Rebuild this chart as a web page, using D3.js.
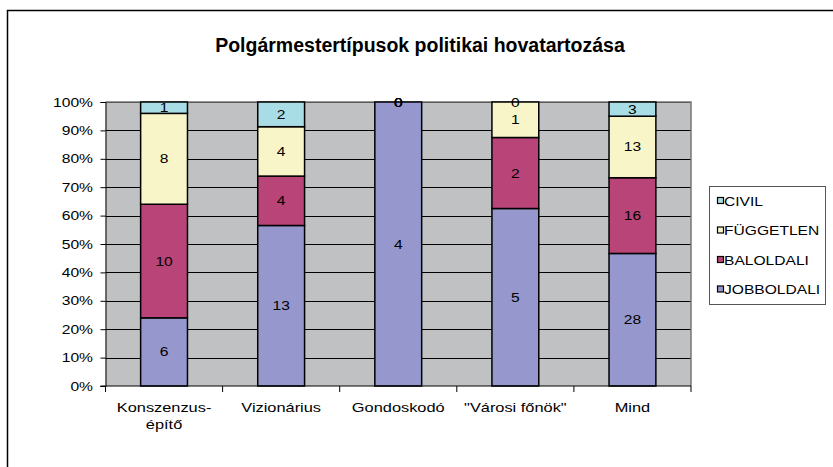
<!DOCTYPE html>
<html>
<head>
<meta charset="utf-8">
<script src="https://cdn.jsdelivr.net/npm/d3@7"></script>
<style>
  body { margin: 0; background: #fff; }
  svg { display: block; font-family: "Liberation Sans", Arial, sans-serif; }
</style>
</head>
<body>
<script>
// chart values
const categories = ['Konszenzus-\népítő', 'Vizionárius', 'Gondoskodó', '"Városi főnök"', 'Mind'];
const seriesNames = ['JOBBOLDALI', 'BALOLDALI', 'FÜGGETLEN', 'CIVIL'];
const jobboldali = [6, 13, 4, 5, 28];
const baloldali = [10, 4, 0, 2, 16];
const fuggetlen = [8, 4, 0, 1, 13];
const civil = [1, 2, 0, 0, 3];
const yTicks = [0, 0.1, 0.2, 0.3, 0.4, 0.5, 0.6, 0.7, 0.8, 0.9, 1];

const colors = ['#9597cd', '#b94478', '#f8f6c9', '#a8dde5'];

const width = 833, height = 467;
const plot = { left: 105.5, top: 102, right: 691, bottom: 386 };

var svg = d3.select('body').append('svg')
  .attr('width', width)
  .attr('height', height);

// the small text in the original is rendered wide, so stretch it horizontally
function wideText(parent, px, py, sx, size, anchor, str) {
  return parent.append('text')
    .attr('transform', 'translate(' + px + ',' + py + ') scale(' + sx + ',1)')
    .attr('text-anchor', anchor)
    .attr('font-size', size)
    .attr('fill', '#000')
    .text(str);
}

// outer frame
svg.append('rect')
  .attr('x', 7.5).attr('y', 10.5)
  .attr('width', 840).attr('height', 480)
  .attr('fill', 'none').attr('stroke', '#000').attr('stroke-width', 1.5);

svg.append('text')
  .attr('x', 420).attr('y', 52)
  .attr('text-anchor', 'middle')
  .attr('font-size', 19.5).attr('font-weight', 'bold')
  .text('Polgármestertípusok politikai  hovatartozása');

var table = categories.map(function (c, i) {
  return { cat: c, JOBBOLDALI: jobboldali[i], BALOLDALI: baloldali[i], 'FÜGGETLEN': fuggetlen[i], CIVIL: civil[i] };
});

var stacked = d3.stack().keys(seriesNames).offset(d3.stackOffsetExpand)(table);

var x = d3.scaleBand().domain(categories).range([plot.left, plot.right]);
var y = d3.scaleLinear().domain([0, 1]).range([plot.bottom, plot.top]);

// plot background
svg.append('rect')
  .attr('x', plot.left).attr('y', plot.top)
  .attr('width', plot.right - plot.left).attr('height', plot.bottom - plot.top)
  .attr('fill', '#bfc1c3');

// gridlines
svg.append('g').selectAll('line').data(yTicks.slice(1)).enter().append('line')
  .attr('x1', plot.left).attr('x2', plot.right)
  .attr('y1', function (d) { return Math.round(y(d)) + 0.5; })
  .attr('y2', function (d) { return Math.round(y(d)) + 0.5; })
  .attr('stroke', '#000').attr('stroke-width', 1);

// right/top plot border
svg.append('path')
  .attr('d', 'M' + plot.left + ',' + plot.top + 'H' + plot.right + 'V' + plot.bottom)
  .attr('fill', 'none').attr('stroke', '#777').attr('stroke-width', 1.5);

var barW = x.bandwidth() * 0.4;

var layers = svg.append('g').selectAll('g').data(stacked).enter().append('g')
  .attr('fill', function (d, i) { return colors[i]; });

layers.selectAll('rect').data(function (d) { return d; }).enter().append('rect')
  .attr('x', function (d) { return x(d.data.cat) + (x.bandwidth() - barW) / 2; })
  .attr('y', function (d) { return y(d[1]); })
  .attr('width', barW)
  .attr('height', function (d) { return y(d[0]) - y(d[1]); })
  .attr('stroke', '#000').attr('stroke-width', 1.5);

// value labels
var valueLabels = svg.append('g');
stacked.forEach(function (layer) {
  layer.forEach(function (d) {
    wideText(valueLabels, x(d.data.cat) + x.bandwidth() / 2, (y(d[0]) + y(d[1])) / 2 + 4.5,
      1.2, 13, 'middle', d.data[layer.key]);
  });
});

// y axis
var yAxis = svg.append('g')
  .attr('transform', 'translate(' + plot.left + ',0)')
  .call(d3.axisLeft(y).tickValues(yTicks).tickFormat('').tickSize(5));
yAxis.select('.domain').attr('stroke', '#000');
yTicks.forEach(function (t) {
  wideText(svg, 93, y(t) + 4.5, 1.25, 12.5, 'end', d3.format('.0%')(t));
});

// x axis with ticks on category boundaries
var xAxis = svg.append('g')
  .attr('transform', 'translate(0,' + plot.bottom + ')');
xAxis.append('line')
  .attr('x1', plot.left - 5).attr('x2', plot.right)
  .attr('stroke', '#000');
var bounds = categories.map(function (c) { return x(c); }).concat([plot.right]);
xAxis.selectAll('.tk').data(bounds).enter().append('line')
  .attr('x1', function (d) { return d; }).attr('x2', function (d) { return d; })
  .attr('y1', 0).attr('y2', 6)
  .attr('stroke', '#000');
categories.forEach(function (c) {
  c.split('\n').forEach(function (line, i) {
    wideText(xAxis, x(c) + x.bandwidth() / 2, 26 + i * 17, 1.26, 13, 'middle', line);
  });
});

// legend
var legend = svg.append('g').attr('transform', 'translate(709,186)');
legend.append('rect')
  .attr('x', 0.5).attr('y', 0.5).attr('width', 116).attr('height', 118)
  .attr('fill', '#fff').attr('stroke', '#555');
var legendOrder = seriesNames.slice().reverse();
legendOrder.forEach(function (name, i) {
  var g = legend.append('g').attr('transform', 'translate(0,' + (15 + i * 29.5) + ')');
  g.append('rect')
    .attr('x', 8.5).attr('y', -3.5).attr('width', 6).attr('height', 6)
    .attr('fill', colors[seriesNames.indexOf(name)])
    .attr('stroke', '#000').attr('stroke-width', 1.2);
  wideText(g, 15, 4.5, 1.3, 12, 'start', name);
});
</script>
</body>
</html>
